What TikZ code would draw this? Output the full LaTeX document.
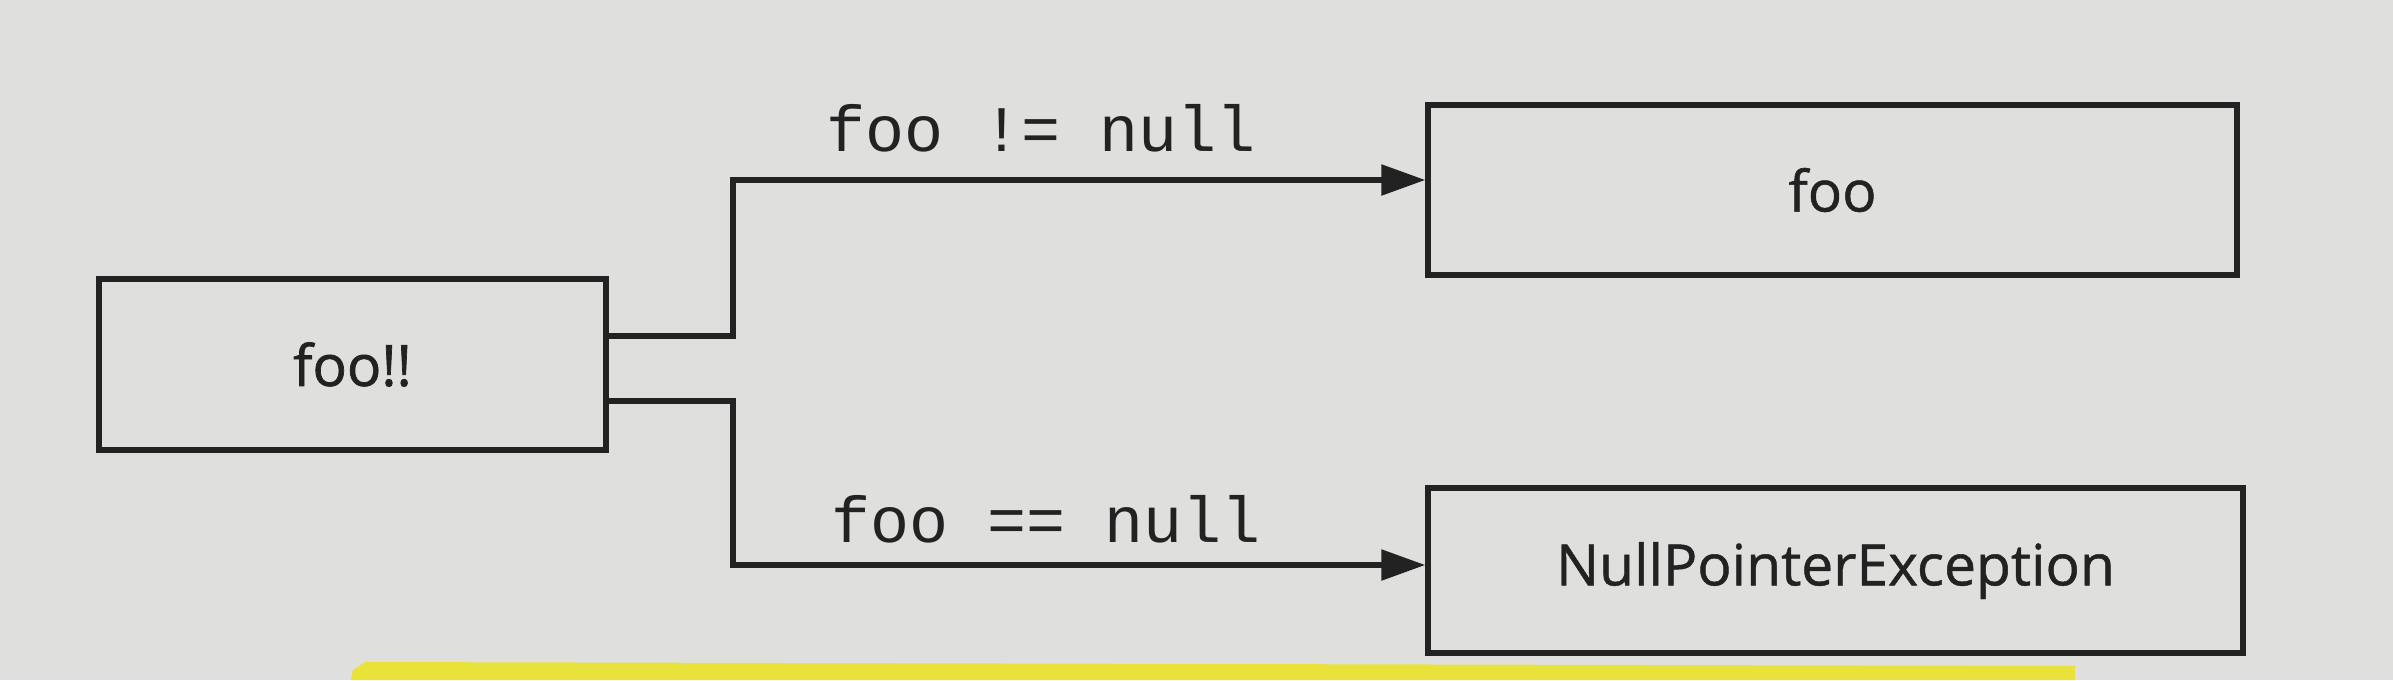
\documentclass[tikz,border=0pt]{standalone}
\usepackage{fontspec}
\setmainfont{Open Sans}[FakeBold=0.8]
\newfontfamily\boxfont{Open Sans}[FakeBold=0.8]
\newfontfamily\codefont{Liberation Mono}
\usetikzlibrary{arrows.meta}
\definecolor{paper}{RGB}{223,223,221}
\definecolor{ink}{RGB}{34,34,34}
\definecolor{marker}{RGB}{232,226,58}
\tikzset{
  box/.style={draw=ink, line width=2.7pt, rectangle, inner sep=0pt,
    font=\boxfont\fontsize{28.5}{31}\selectfont, text=ink},
  conn/.style={draw=ink, line width=2.8pt,
    -{Triangle[length=22pt,width=15pt]}},
  cond/.style={font=\codefont\fontsize{32.5}{35}\selectfont, text=ink, inner sep=0pt}
}
\begin{document}
\begin{tikzpicture}[x=0.5pt,y=-0.5pt]
\fill[paper] (0,0) rectangle (2393,680);
\useasboundingbox (0,0) rectangle (2393,680);
\fill[marker] (365,662) -- (2075,666) -- (2075,680) -- (351,680) -- (353,670) -- cycle;
\node[box, minimum width=253.5pt, minimum height=85.5pt] (a) at (352.5,364.5) {\addfontfeature{FakeBold=1.2}foo!!};
\node[box, minimum width=404.5pt, minimum height=85pt] (b) at (1832.5,190) {foo};
\node[box, minimum width=407.5pt, minimum height=82.5pt] (c) at (1835.5,570.5) {NullPointerException};
\coordinate (j1) at (733,336);
\coordinate (j2) at (733,401);
\draw[conn] (a.east |- j1) -- (j1) |- ([yshift=5pt]b.west);
\draw[conn] (a.east |- j2) -- (j2) |- ([yshift=2.75pt]c.west);
\node[cond] (l1) at (1041.5,128) {foo != null};
\node[cond] (l2) at (1046,519) {foo == null};
\end{tikzpicture}
\end{document}
